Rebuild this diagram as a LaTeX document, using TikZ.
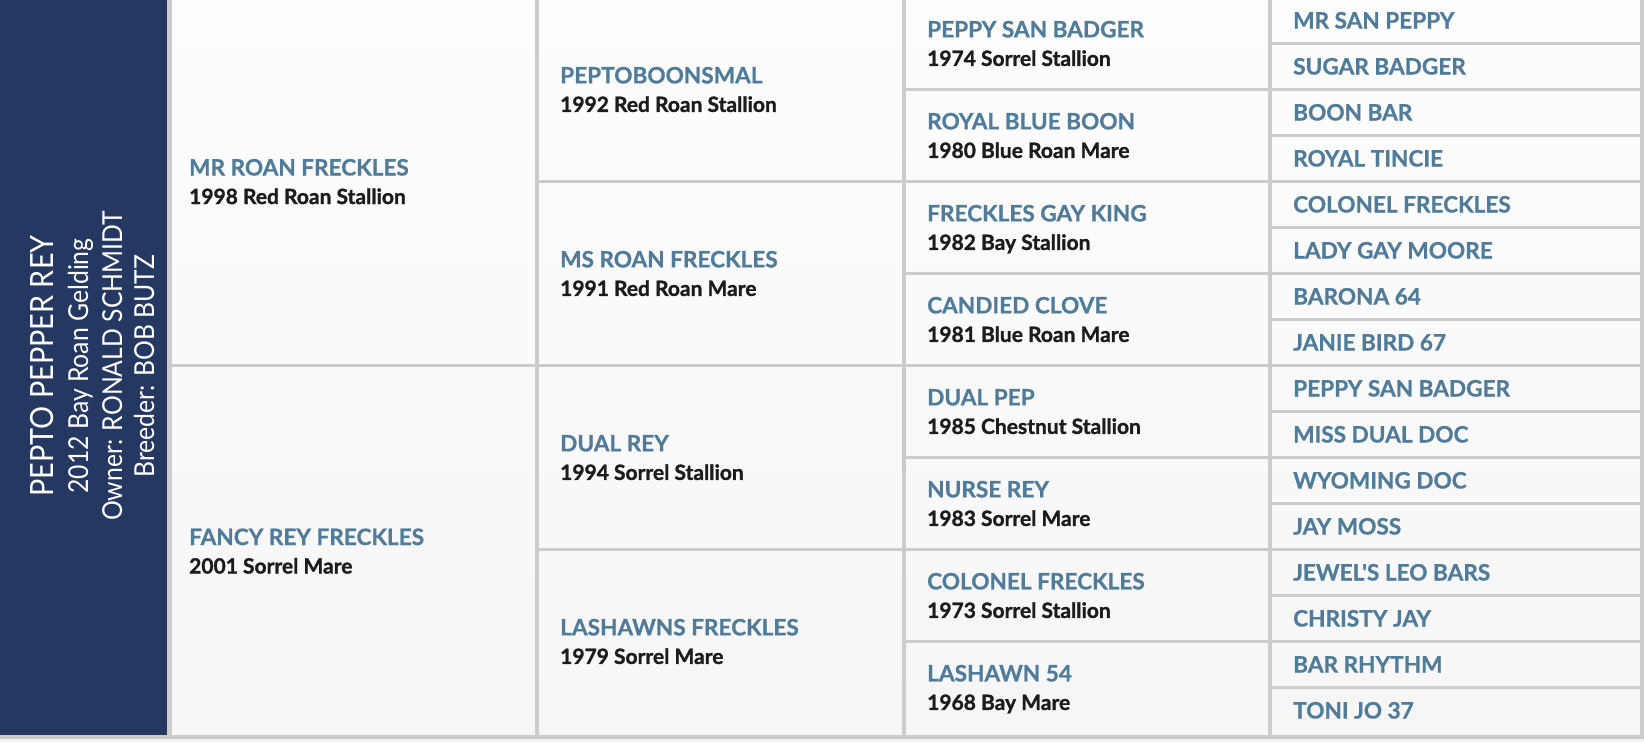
\documentclass[tikz,border=0pt]{standalone}
\usepackage{fontspec}
\setmainfont{Lato}
\newfontfamily\namefont{Lato}[FakeBold=0.8]
\newfontfamily\subfont{Lato}[FakeBold=1.3]
\newfontfamily\sidefont{Lato}[FakeStretch=0.9]
\definecolor{navy}{RGB}{37,56,98}
\definecolor{linegray}{RGB}{204,204,204}
\definecolor{nameblue}{RGB}{80,124,153}
\definecolor{subblack}{RGB}{28,28,28}
\definecolor{celltop}{RGB}{253,253,253}
\definecolor{cellbot}{RGB}{246,246,246}
\definecolor{lightbg}{RGB}{243,243,243}
\begin{document}
\begin{tikzpicture}[x=1pt,y=-1pt,
  nm/.style={anchor=base west,inner sep=0pt,text=nameblue,font=\namefont\bfseries\fontsize{22.6}{26}\selectfont},
  sb/.style={anchor=base west,inner sep=0pt,text=subblack,font=\subfont\bfseries\fontsize{21}{24}\selectfont},
  side/.style={anchor=base,inner sep=0pt,rotate=90,text=white},
  rule/.style={fill=linegray}]
\useasboundingbox (0,0) rectangle (1644,742);
\fill[lightbg] (0,0) rectangle (1644,742);
\shade[top color=celltop,bottom color=cellbot] (0,0) rectangle (1644,734.5);
% horizontal rules
\foreach \k in {1,...,15} \fill[rule] (1268.3,{46*\k-4.3}) rectangle (1644,{46*\k-1});
\foreach \k in {2,4,...,14} \fill[rule] (901.7,{46*\k-4.3}) rectangle (1272.3,{46*\k-1});
\foreach \k in {4,8,12} \fill[rule] (535,{46*\k-4.3}) rectangle (905.7,{46*\k-1});
\fill[rule] (167.3,363.7) rectangle (539,367);
% vertical rules
\foreach \a/\b in {167.3/172,535/539,901.7/905.7,1268.3/1272.3,1640/1644}
  \fill[rule] (\a,0) rectangle (\b,738.5);
\fill[rule] (0,734.5) rectangle (1644,738.5);
% subject column
\fill[navy] (0,0) rectangle (167.3,734.5);
\node[side,font=\sidefont\fontsize{32}{36}\selectfont] (title) at (53,366) {PEPTO PEPPER REY};
\node[side,font=\sidefont\fontsize{27.5}{30}\selectfont] (born) at (88,366) {2012 Bay Roan Gelding};
\node[side,font=\sidefont\fontsize{27.5}{30}\selectfont] (owner) at (122,366) {Owner: RONALD SCHMIDT};
\node[side,font=\sidefont\fontsize{27.5}{30}\selectfont] (breeder) at (154,366) {Breeder: BOB BUTZ};
% parents
\node[nm] (pn1) at (189,175.5) {MR ROAN FRECKLES};
\node[sb] (ps1) at (189,204) {1998 Red Roan Stallion};
\node[nm] (pn2) at (189,545) {FANCY REY FRECKLES};
\node[sb] (ps2) at (189,573.5) {2001 Sorrel Mare};
% grandparents
\foreach \n/\s [count=\j] in {PEPTOBOONSMAL/1992 Red Roan Stallion,MS ROAN FRECKLES/1991 Red Roan Mare,DUAL REY/1994 Sorrel Stallion,LASHAWNS FRECKLES/1979 Sorrel Mare}{
  \node[nm] (gn\j) at (560,{184*\j-100.6}) {\n};
  \node[sb] (gs\j) at (560,{184*\j-72.1}) {\s};
}
% great-grandparents
\foreach \n/\s [count=\j] in {PEPPY SAN BADGER/1974 Sorrel Stallion,ROYAL BLUE BOON/1980 Blue Roan Mare,FRECKLES GAY KING/1982 Bay Stallion,CANDIED CLOVE/1981 Blue Roan Mare,DUAL PEP/1985 Chestnut Stallion,NURSE REY/1983 Sorrel Mare,COLONEL FRECKLES/1973 Sorrel Stallion,LASHAWN 54/1968 Bay Mare}{
  \node[nm] (hn\j) at (927,{92*\j-54.6}) {\n};
  \node[sb] (hs\j) at (927,{92*\j-26.1}) {\s};
}
% great-great-grandparents
\foreach \n [count=\j] in {MR SAN PEPPY,SUGAR BADGER,BOON BAR,ROYAL TINCIE,COLONEL FRECKLES,LADY GAY MOORE,BARONA 64,JANIE BIRD 67,PEPPY SAN BADGER,MISS DUAL DOC,WYOMING DOC,JAY MOSS,JEWEL'S LEO BARS,CHRISTY JAY,BAR RHYTHM,TONI JO 37}{
  \node[nm] (kn\j) at (1293,{46*\j-17.5}) {\n};
}
\end{tikzpicture}
\end{document}
